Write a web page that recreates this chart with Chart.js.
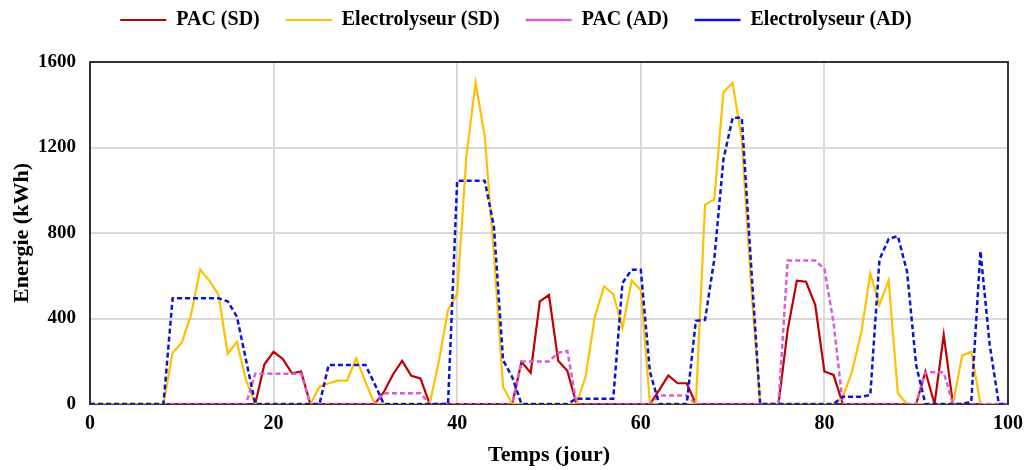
<!DOCTYPE html>
<html>
<head>
<meta charset="utf-8">
<script src="https://cdn.jsdelivr.net/npm/chart.js@4/dist/chart.umd.min.js"></script>
<style>
  html, body { margin: 0; padding: 0; background: #fff; }
  #wrap { width: 1024px; height: 470px; }
</style>
</head>
<body>
<div id="wrap"><canvas id="energyChart" width="1024" height="470"></canvas></div>
<script>
// days 0..100
const days = Array.from({ length: 101 }, (_, i) => i);

const xTicks = [0, 20, 40, 60, 80, 100];
const yTicks = [0, 400, 800, 1200, 1600];

// PAC (SD)
const pacSD = [
  0, 0, 0, 0, 0, 0, 0, 0, 0, 0,
  0, 0, 0, 0, 0, 0, 0, 0, 0, 186,
  244, 211, 144, 152, 0, 0, 0, 0, 0, 0,
  0, 0, 55, 138, 202, 132, 120, 0, 0, 0,
  0, 0, 0, 0, 0, 0, 0, 197, 146, 480,
  510, 202, 155, 0, 0, 0, 0, 0, 0, 0,
  0, 0, 65, 134, 97, 97, 0, 0, 0, 0,
  0, 0, 0, 0, 0, 0, 347, 577, 572, 464,
  152, 136, 0, 0, 0, 0, 0, 0, 0, 0,
  0, 152, 0, 323, 0, 0, 0, 0, 0, 0,
  0
];

// Electrolyseur (SD)
const elecSD = [
  0, 0, 0, 0, 0, 0, 0, 0, 0, 240,
  287, 417, 628, 577, 511, 235, 290, 112, 0, 0,
  0, 0, 0, 0, 0, 81, 97, 109, 109, 214,
  105, 0, 0, 0, 0, 0, 0, 0, 200, 440,
  515, 1159, 1503, 1253, 700, 80, 0, 0, 0, 0,
  0, 0, 0, 0, 131, 409, 550, 514, 355, 578,
  534, 0, 0, 0, 0, 0, 0, 933, 956, 1459,
  1503, 1237, 566, 0, 0, 0, 0, 0, 0, 0,
  0, 0, 30, 152, 330, 610, 464, 578, 50, 0,
  0, 0, 0, 0, 0, 226, 245, 0, 0, 0,
  0
];

// PAC (AD)
const pacAD = [
  0, 0, 0, 0, 0, 0, 0, 0, 0, 0,
  0, 0, 0, 0, 0, 0, 0, 0, 142, 142,
  142, 142, 142, 142, 0, 0, 0, 0, 0, 0,
  0, 0, 50, 50, 50, 50, 50, 0, 0, 0,
  0, 0, 0, 0, 0, 0, 0, 199, 199, 199,
  199, 240, 248, 0, 0, 0, 0, 0, 0, 0,
  0, 0, 40, 40, 40, 40, 0, 0, 0, 0,
  0, 0, 0, 0, 0, 0, 671, 671, 671, 671,
  632, 380, 0, 0, 0, 0, 0, 0, 0, 0,
  0, 148, 148, 148, 0, 0, 0, 0, 0, 0,
  0
];

// Electrolyseur (AD)
const elecAD = [
  0, 0, 0, 0, 0, 0, 0, 0, 0, 495,
  495, 495, 495, 495, 495, 480, 409, 205, 0, 0,
  0, 0, 0, 0, 0, 0, 183, 183, 183, 183,
  183, 95, 0, 0, 0, 0, 0, 0, 0, 0,
  1045, 1045, 1045, 1045, 830, 205, 125, 0, 0, 0,
  0, 0, 0, 25, 25, 25, 25, 25, 566, 628,
  628, 150, 0, 0, 0, 0, 389, 394, 675, 1144,
  1339, 1339, 660, 0, 0, 0, 0, 0, 0, 0,
  0, 0, 34, 34, 34, 42, 676, 772, 786, 620,
  180, 0, 0, 0, 0, 0, 11, 715, 280, 0,
  0
];

function toPoints(values) {
  return values.map((v, i) => ({ x: days[i], y: v }));
}

const serif = "'Liberation Serif', 'Times New Roman', serif";

// frame around the plot area, like the Excel chart
const plotFrame = {
  id: 'plotFrame',
  beforeDatasetsDraw(chart) {
    const { ctx, chartArea } = chart;
    ctx.save();
    ctx.strokeStyle = '#333333';
    ctx.lineWidth = 2;
    ctx.strokeRect(chartArea.left, chartArea.top, chartArea.right - chartArea.left, chartArea.bottom - chartArea.top);
    ctx.restore();
  }
};

// fixed legend band height, legend row pulled up near the top edge
const legendBand = {
  id: 'legendBand',
  beforeInit(chart) {
    const origFit = chart.legend.fit;
    chart.legend.fit = function () {
      origFit.bind(chart.legend)();
      this.height = 62;
    };
  },
  afterLayout(chart) {
    chart.legend.top = -16;
    chart.legend.left += 12;
    chart.legend.right += 12;
  }
};

const ctx = document.getElementById('energyChart').getContext('2d');

new Chart(ctx, {
  type: 'line',
  data: {
    datasets: [
      {
        label: 'PAC (SD)',
        data: toPoints(pacSD),
        borderColor: '#c00000',
        backgroundColor: '#c00000',
        borderWidth: 2.2,
        order: 4
      },
      {
        label: 'Electrolyseur (SD)',
        data: toPoints(elecSD),
        borderColor: '#ffc000',
        backgroundColor: '#ffc000',
        borderWidth: 2.2,
        order: 3
      },
      {
        label: 'PAC (AD)',
        data: toPoints(pacAD),
        borderColor: '#d65fd6',
        backgroundColor: '#d65fd6',
        borderWidth: 2.5,
        borderDash: [5, 3],
        order: 2
      },
      {
        label: 'Electrolyseur (AD)',
        data: toPoints(elecAD),
        borderColor: '#0a14d8',
        backgroundColor: '#0a14d8',
        borderWidth: 2.5,
        borderDash: [5, 3],
        order: 1
      }
    ]
  },
  options: {
    responsive: false,
    animation: false,
    layout: { padding: { left: 0, right: 16, top: 0, bottom: 0 } },
    elements: {
      point: { radius: 0 },
      line: { tension: 0 }
    },
    plugins: {
      legend: {
        position: 'top',
        labels: {
          usePointStyle: true,
          pointStyle: 'line',
          pointStyleWidth: 46,
          padding: 26,
          color: '#000',
          font: { family: serif, size: 20, weight: 'bold' },
          sort: (a, b) => a.datasetIndex - b.datasetIndex
        }
      },
      tooltip: { enabled: false }
    },
    scales: {
      x: {
        type: 'linear',
        min: 0,
        max: 100,
        afterFit(scale) {
          scale.height = 66;
          scale.paddingLeft = 0;
          scale.paddingRight = 0;
        },
        afterBuildTicks(scale) { scale.ticks = xTicks.map(v => ({ value: v })); },
        grid: { color: '#d9d9d9', lineWidth: 2, drawTicks: false },
        border: { display: false },
        ticks: {
          padding: 8,
          color: '#000',
          maxRotation: 0,
          font: { family: serif, size: 20, weight: 'bold' },
          callback: v => String(v)
        },
        title: {
          display: true,
          text: 'Temps (jour)',
          color: '#000',
          font: { family: serif, size: 22, weight: 'bold' },
          padding: { top: 0, bottom: 1 }
        }
      },
      y: {
        min: 0,
        max: 1600,
        afterFit(scale) { scale.width = 90; },
        afterBuildTicks(scale) { scale.ticks = yTicks.map(v => ({ value: v })); },
        grid: { color: '#d9d9d9', lineWidth: 2, drawTicks: false },
        border: { display: false },
        ticks: {
          padding: 14,
          color: '#000',
          font: { family: serif, size: 19, weight: 'bold' },
          callback: v => String(v)
        },
        title: {
          display: true,
          text: 'Energie (kWh)',
          color: '#000',
          font: { family: serif, size: 22, weight: 'bold' },
          padding: { top: 9, bottom: 0 }
        }
      }
    }
  },
  plugins: [plotFrame, legendBand]
});
</script>
</body>
</html>
